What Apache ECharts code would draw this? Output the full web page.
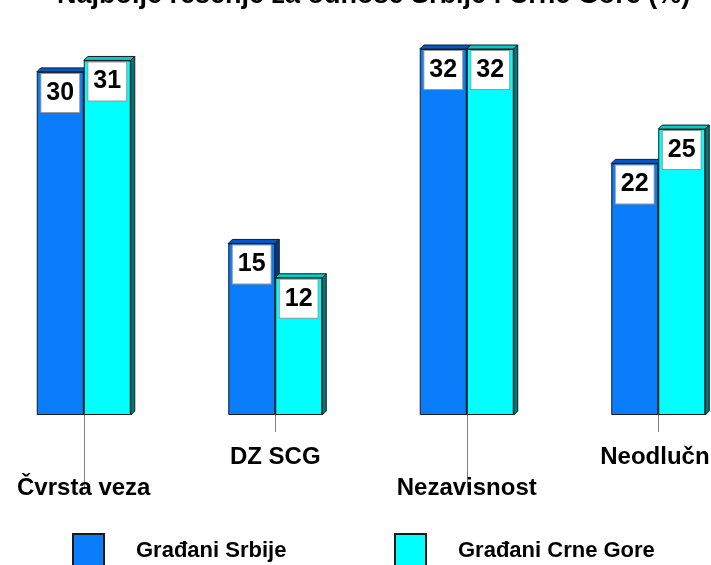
<!DOCTYPE html>
<html>
<head>
<meta charset="utf-8">
<script src="https://cdn.jsdelivr.net/npm/echarts@6/dist/echarts.min.js"></script>
<style>
html, body { margin: 0; padding: 0; background: #fff; }
#chart { width: 711px; height: 565px; }
</style>
</head>
<body>
<div id="chart"></div>
<script>
// podaci
var categories = ['Čvrsta veza', 'DZ SCG', 'Nezavisnost', 'Neodlučni'];
var srbija = [30, 15, 32, 22];
var crnaGora = [31, 12, 32, 25];
var seriesNames = ['Građani Srbije', 'Građani Crne Gore'];

var BAR_W = 47;
var DEPTH = 4;
var FONT = 'Liberation Sans, Arial, sans-serif';

// 3D gornja i bocna strana stubica
function make3d(left, topColor, sideColor) {
    return function (params, api) {
        var top = api.coord([api.value(0), api.value(1)]);
        var base = api.coord([api.value(0), 0]);
        var x0 = left ? top[0] - BAR_W : top[0];
        var x1 = x0 + BAR_W;
        return {
            type: 'group',
            children: [
                {
                    type: 'polygon',
                    shape: { points: [[x0, top[1]], [x0 + DEPTH, top[1] - DEPTH], [x1 + DEPTH, top[1] - DEPTH], [x1, top[1]]] },
                    style: { fill: topColor, stroke: '#1a1a1a', lineWidth: 1 }
                },
                {
                    type: 'polygon',
                    shape: { points: [[x1, top[1]], [x1 + DEPTH, top[1] - DEPTH], [x1 + DEPTH, base[1] - DEPTH], [x1, base[1]]] },
                    style: { fill: sideColor, stroke: '#1a1a1a', lineWidth: 1 }
                }
            ]
        };
    };
}

var labelStyle = {
    show: true,
    position: 'insideTop',
    distance: 2,
    color: '#000',
    fontFamily: FONT,
    fontSize: 25,
    fontWeight: 'bold',
    lineHeight: 26,
    backgroundColor: '#fff',
    borderColor: '#999',
    borderWidth: 1,
    padding: [6, 5, 6, 5]
};

var axisText = { fontFamily: FONT, fontSize: 24, fontWeight: 'bold', color: '#000' };

var chart = echarts.init(document.getElementById('chart'));
var option = {
    animation: false,
    title: {
        text: 'Najbolje rešenje za odnose Srbije i Crne Gore (%)',
        left: 52,
        top: -23,
        textStyle: { fontFamily: FONT, fontSize: 27, fontWeight: 'bold', color: '#000' }
    },
    legend: [
        {
            data: [seriesNames[0]],
            left: 72,
            top: 533,
            padding: 0,
            itemWidth: 31,
            itemHeight: 34,
            icon: 'rect',
            textStyle: { fontFamily: FONT, fontSize: 22, fontWeight: 'bold', color: '#000', padding: [0, 0, 0, 27] }
        },
        {
            data: [seriesNames[1]],
            left: 394,
            top: 533,
            padding: 0,
            itemWidth: 31,
            itemHeight: 34,
            icon: 'rect',
            textStyle: { fontFamily: FONT, fontSize: 22, fontWeight: 'bold', color: '#000', padding: [0, 0, 0, 27] }
        }
    ],
    grid: { left: -12, width: 766, top: 49, bottom: 150, outerBoundsMode: 'none', containLabel: false },
    xAxis: [
        {
            type: 'category',
            data: categories,
            axisLine: { show: false },
            axisTick: {
                show: true, alignWithLabel: true, length: 72,
                interval: function (i) { return i % 2 === 0; },
                lineStyle: { color: '#808080', width: 1 }
            },
            axisLabel: Object.assign({
                interval: function (i) { return i % 2 === 0; },
                margin: 61
            }, axisText)
        },
        {
            type: 'category',
            position: 'bottom',
            data: categories,
            axisLine: { show: false },
            axisTick: {
                show: true, alignWithLabel: true, length: 17,
                interval: function (i) { return i % 2 === 1; },
                lineStyle: { color: '#808080', width: 1 }
            },
            axisLabel: Object.assign({
                interval: function (i) { return i % 2 === 1; },
                margin: 30
            }, axisText)
        }
    ],
    yAxis: { type: 'value', min: 0, max: 32, show: false, splitLine: { show: false } },
    series: [
        {
            name: seriesNames[0],
            type: 'bar',
            z: 2,
            barWidth: BAR_W,
            barGap: '0%',
            data: srbija,
            itemStyle: { color: '#0a7dfa', borderColor: '#1a1a1a', borderWidth: 1 },
            label: labelStyle
        },
        {
            type: 'custom',
            z: 2,
            renderItem: make3d(true, '#0058cc', '#003a8a'),
            data: srbija.map(function (v, i) { return [i, v]; }),
            encode: { x: 0, y: 1 },
            silent: true
        },
        {
            name: seriesNames[1],
            type: 'bar',
            z: 3,
            barWidth: BAR_W,
            barGap: '0%',
            data: crnaGora,
            itemStyle: { color: '#00ffff', borderColor: '#1a1a1a', borderWidth: 1 },
            label: labelStyle
        },
        {
            type: 'custom',
            z: 3,
            renderItem: make3d(false, '#00cccc', '#007878'),
            data: crnaGora.map(function (v, i) { return [i, v]; }),
            encode: { x: 0, y: 1 },
            silent: true
        }
    ]
};
chart.setOption(option);
</script>
</body>
</html>
